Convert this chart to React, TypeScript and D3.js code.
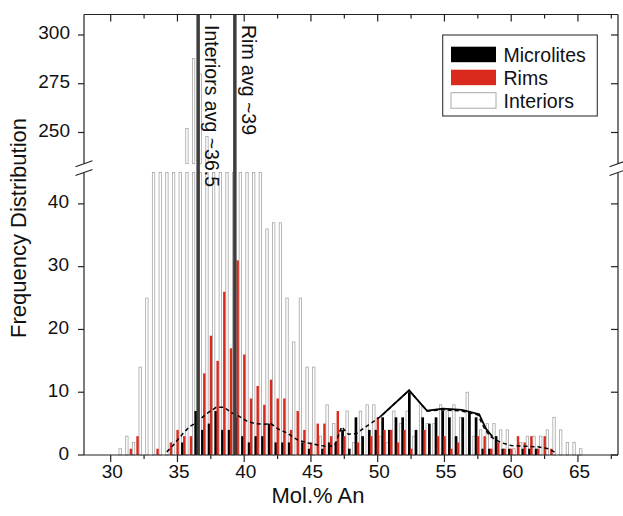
import React from 'react';
import * as d3 from 'd3';

// ---------- data ----------
const bins = [30.5, 31, 31.5, 32, 32.5, 33, 33.5, 34, 34.5, 35, 35.5, 36, 36.5, 37, 37.5, 38, 38.5, 39, 39.5, 40,
  40.5, 41, 41.5, 42, 42.5, 43, 43.5, 44, 44.5, 45, 45.5, 46, 46.5, 47, 47.5, 48, 48.5, 49, 49.5, 50,
  50.5, 51, 51.5, 52, 52.5, 53, 53.5, 54, 54.5, 55, 55.5, 56, 56.5, 57, 57.5, 58, 58.5, 59, 59.5, 60,
  60.5, 61, 61.5, 62, 62.5, 63, 63.5, 64, 64.5, 65];

const microlites = [0, 0, 0, 0, 0, 0, 0, 0, 0, 0, 2, 0, 7, 4, 5, 7, 4, 4, 6, 3,
  2, 3, 3, 5, 2, 2, 2, 0, 2, 1, 0, 1, 2, 2, 4, 1, 6, 3, 4, 4,
  6, 4, 6, 6, 10, 4, 6, 5, 6, 7, 6, 3, 6, 7, 6, 1, 1, 3, 1, 1,
  0, 1, 1, 1, 0, 0, 0, 0, 0, 0];

const rims = [0, 0, 1, 3, 0, 0, 1, 0, 2, 4, 3, 3, 0, 13, 19, 15, 26, 17, 31, 16,
  9, 11, 8, 12, 9, 9, 4, 7, 4, 2, 5, 5, 3, 7, 3, 0, 2, 0, 3, 6,
  4, 4, 2, 4, 1, 0, 4, 0, 3, 3, 1, 2, 0, 0, 3, 3, 1, 2, 1, 1,
  3, 2, 3, 1, 3, 1, 0, 0, 0, 0];

const interiors = [1, 3, 2, 14, 25, 62, 96, 124, 158, 196, 252, 288, 280, 248, 214, 176, 142, 118, 97, 78,
  61, 49, 36, 37, 37, 25, 18, 25, 14, 14, 3, 8, 5, 4, 7, 2, 7, 8, 8, 3,
  2, 7, 5, 7, 3, 8, 5, 5, 8, 7, 8, 6, 10, 3, 4, 5, 5, 4, 4, 1,
  2, 3, 3, 3, 4, 6, 4, 2, 2, 1];

const solidX = [50.2, 52.35, 53.7, 54.9, 56.3, 57.6, 58.1, 58.6];
const solidY = [6.1, 10.3, 7.05, 7.4, 7.2, 6.5, 4.2, 2.9];

const dashedX = [34.2, 34.7, 35.4, 35.9, 36.3, 37.2, 37.9, 38.5, 39.0, 39.6, 40.2, 40.8, 41.5, 42.0, 42.5, 43.2,
  44.0, 44.8, 45.5, 46.3, 46.8, 47.3, 47.8, 48.4, 49.1, 49.6, 50.2, 52.35, 53.7, 54.9, 56.3, 57.5,
  58.0, 58.4, 59.2, 60.0, 61.0, 62.0, 62.8, 63.4];
const dashedY = [0.5, 1.6, 3.4, 4.5, 5.0, 6.6, 7.6, 7.6, 6.8, 6.2, 5.4, 5.0, 4.9, 5.0, 4.2, 3.5,
  2.4, 1.9, 1.6, 1.3, 1.6, 4.5, 3.3, 3.4, 4.5, 5.2, 6.1, 10.3, 7.0, 7.2, 7.0, 6.4,
  4.2, 3.0, 2.0, 1.5, 1.4, 1.3, 1.0, 0.3];

const xMajorTicks = [30, 35, 40, 45, 50, 55, 60, 65];
const xMinorTicks = [32.5, 37.5, 42.5, 47.5, 52.5, 57.5, 62.5, 67.5];
const yLowTicks = [0, 10, 20, 30, 40];
const yHighTicks = [250, 275, 300];

const avgValues = [36.55, 39.3];
const avgLabels = ['Interiors avg ~36.5', 'Rim avg ~39'];

const legendNames = ['Microlites', 'Rims', 'Interiors'];

// ---------- layout ----------
const W = 623, H = 516;
const L = 84, R = 618, T = 14.5, B = 455;
const LOW_TOP = 172.5, HIGH_BOT = 163.7;
const LOW_MAX = 45, HIGH_MIN = 234;
const FONT = 'Liberation Sans, Arial, Helvetica, sans-serif';
const RED = '#da2a1e';

const x = d3.scaleLinear().domain([28, 68]).range([L, R]);
const yLow = d3.scaleLinear().domain([0, LOW_MAX]).range([B, LOW_TOP]);
const yHigh = d3.scaleLinear().domain([HIGH_MIN, 310.5]).range([HIGH_BOT, T]);
const unit = x(1) - x(0);

function barSeries(values: number[], offset: number, width: number, fill: string, stroke?: string) {
  const w = width * unit;
  const out: any[] = [];
  values.forEach((v, i) => {
    if (!v) return;
    const cx = x(bins[i] + offset);
    const vl = Math.min(v, LOW_MAX);
    out.push(
      <rect key={'l' + i} x={cx - w / 2} y={yLow(vl)} width={w} height={yLow(0) - yLow(vl)}
        fill={fill} stroke={stroke || 'none'} strokeWidth={stroke ? 0.8 : 0} />
    );
    if (v > HIGH_MIN) {
      out.push(
        <rect key={'h' + i} x={cx - w / 2} y={yHigh(v)} width={w} height={yHigh(HIGH_MIN) - yHigh(v)}
          fill={fill} stroke={stroke || 'none'} strokeWidth={stroke ? 0.8 : 0} />
      );
    }
  });
  return out;
}

export default function App() {
  const lineGen = d3.line<[number, number]>().x(d => x(d[0])).y(d => yLow(d[1]));
  const solidPts = solidX.map((v, i) => [v, solidY[i]] as [number, number]);
  const dashedPts = dashedX.map((v, i) => [v, dashedY[i]] as [number, number]);

  const axisStroke = '#222';

  return (
    <svg width={W} height={H} style={{ position: 'absolute', left: 0, top: 0, background: '#fff' }}
      fontFamily={FONT}>
      <rect x={0} y={0} width={W} height={H} fill="#fff" />
      {/* bars */}
      <g>{barSeries(interiors, 0.21, 0.18, '#fff', '#a6a6a6')}</g>
      <g>{barSeries(microlites, -0.13, 0.2, '#000')}</g>
      <g>{barSeries(rims, 0.01, 0.18, RED)}</g>

      {/* curves */}
      <path d={lineGen(dashedPts) || ''} fill="none" stroke="#000" strokeWidth={1.5} strokeDasharray="4,3" />
      <path d={lineGen(solidPts) || ''} fill="none" stroke="#000" strokeWidth={1.8} strokeLinejoin="miter" />

      {/* average lines */}
      {avgValues.map((v, i) => (
        <g key={'avg' + i}>
          <line x1={x(v)} x2={x(v)} y1={T} y2={B} stroke="#3d3d3d" strokeWidth={3.5} />
          <text transform={`translate(${x(v) + 7},25) rotate(90)`} fontSize={19.5} fill="#111">{avgLabels[i]}</text>
        </g>
      ))}

      {/* frame */}
      <line x1={L} x2={R} y1={T} y2={T} stroke={axisStroke} strokeWidth={1.2} />
      <line x1={L} x2={R} y1={B} y2={B} stroke={axisStroke} strokeWidth={1.2} />
      {[L, R].map((ax, i) => (
        <g key={'ax' + i}>
          <line x1={ax} x2={ax} y1={T} y2={HIGH_BOT} stroke={axisStroke} strokeWidth={1.2} />
          <line x1={ax} x2={ax} y1={LOW_TOP} y2={B} stroke={axisStroke} strokeWidth={1.2} />
          <line x1={ax - 8.5} x2={ax + 8.5} y1={HIGH_BOT + 3} y2={HIGH_BOT - 3} stroke={axisStroke} strokeWidth={1.1} />
          <line x1={ax - 8.5} x2={ax + 8.5} y1={LOW_TOP + 3} y2={LOW_TOP - 3} stroke={axisStroke} strokeWidth={1.1} />
        </g>
      ))}

      {/* x ticks */}
      {xMajorTicks.map(t => (
        <g key={'xt' + t}>
          <line x1={x(t)} x2={x(t)} y1={B} y2={B + 7} stroke={axisStroke} strokeWidth={1.2} />
          <line x1={x(t)} x2={x(t)} y1={T} y2={T + 7} stroke={axisStroke} strokeWidth={1.2} />
          <text x={x(t) + 1.5} y={478} textAnchor="middle" fontSize={19} fill="#111">{t}</text>
        </g>
      ))}
      {xMinorTicks.map(t => (
        <g key={'xm' + t}>
          <line x1={x(t)} x2={x(t)} y1={B} y2={B + 4} stroke={axisStroke} strokeWidth={1.2} />
          <line x1={x(t)} x2={x(t)} y1={T} y2={T + 4} stroke={axisStroke} strokeWidth={1.2} />
        </g>
      ))}

      {/* y ticks */}
      {yLowTicks.map(t => (
        <g key={'yl' + t}>
          <line x1={L - 6} x2={L} y1={yLow(t)} y2={yLow(t)} stroke={axisStroke} strokeWidth={1.2} />
          <line x1={R - 7} x2={R} y1={yLow(t)} y2={yLow(t)} stroke={axisStroke} strokeWidth={1.2} />
          <text x={69} y={yLow(t) + 4.5} textAnchor="end" fontSize={19} fill="#111">{t}</text>
        </g>
      ))}
      {yHighTicks.map(t => (
        <g key={'yh' + t}>
          <line x1={L - 6} x2={L} y1={yHigh(t)} y2={yHigh(t)} stroke={axisStroke} strokeWidth={1.2} />
          <line x1={R - 7} x2={R} y1={yHigh(t)} y2={yHigh(t)} stroke={axisStroke} strokeWidth={1.2} />
          <text x={70} y={yHigh(t) + 4.5} textAnchor="end" fontSize={19} fill="#111">{t}</text>
        </g>
      ))}

      {/* axis titles */}
      <text transform="translate(26,228) rotate(-90)" textAnchor="middle" fontSize={22} fill="#111">Frequency Distribution</text>
      <text x={318} y={503} textAnchor="middle" fontSize={22} fill="#111">Mol.% An</text>

      {/* legend */}
      <g>
        <rect x={442.7} y={35} width={154.6} height={81} fill="#fff" stroke="#333" strokeWidth={1.1} />
        {legendNames.map((n, i) => {
          const fill = i === 0 ? '#000' : i === 1 ? RED : '#fff';
          const stroke = i === 2 ? '#aaa' : 'none';
          const yy = 46.7 + i * 23;
          return (
            <g key={'lg' + i}>
              <rect x={451} y={yy} width={45} height={15.5} fill={fill} stroke={stroke} strokeWidth={1} />
              <text x={503.5} y={yy + 15} fontSize={19.5} fill="#111">{n}</text>
            </g>
          );
        })}
      </g>
    </svg>
  );
}
